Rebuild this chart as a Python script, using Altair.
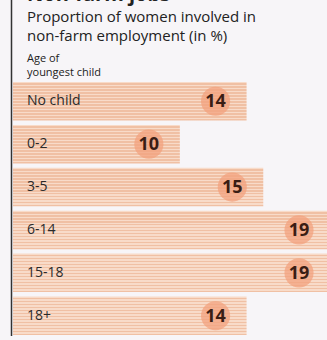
import altair as alt
import pandas as pd

categories = ["No child", "0-2", "3-5", "6-14", "15-18", "18+"]
values = [14, 10, 15, 19, 19, 14]

df = pd.DataFrame({"cat": categories, "val": values})

light = "#f8dbc9"
dark = "#f0c0a4"
n = 13
stops = []
for i in range(n):
    stops.append(alt.GradientStop(offset=i / n, color=light))
    stops.append(alt.GradientStop(offset=(i + 0.5) / n, color=light))
    stops.append(alt.GradientStop(offset=(i + 0.5) / n, color=dark))
    stops.append(alt.GradientStop(offset=(i + 1) / n, color=dark))
grad = alt.Gradient(gradient="linear", stops=stops, x1=0, x2=0, y1=0, y2=1)

x_scale = alt.Scale(domain=[0, 19], range=[13, 330], nice=False, zero=True)
y_scale = alt.Scale(domain=categories, range=[82, 335], paddingInner=0.1, paddingOuter=0)

base = alt.Chart(df)

bars = base.mark_bar(color=grad, cornerRadius=0).encode(
    x=alt.X("val:Q", scale=x_scale, axis=None),
    x2=alt.value(13),
    y=alt.Y("cat:N", scale=y_scale, axis=None, sort=categories),
)

circles = base.mark_circle(color="#f2a07c", opacity=0.72, size=850, xOffset=-31).encode(
    x=alt.X("val:Q", scale=x_scale),
    y=alt.Y("cat:N", scale=y_scale, sort=categories),
)

vals = base.mark_text(dx=-31, dy=1, fontSize=18, fontWeight="bold", color="#3a1d14",
                      font="Open Sans", baseline="middle", align="center").encode(
    x=alt.X("val:Q", scale=x_scale),
    y=alt.Y("cat:N", scale=y_scale, sort=categories),
    text="val:Q",
)

labels = base.mark_text(align="left", baseline="middle", fontSize=14, color="#2a2a2a",
                        font="Open Sans").encode(
    x=alt.value(27),
    y=alt.Y("cat:N", scale=y_scale, sort=categories),
    text="cat:N",
)

def txt(s, y, size, weight="normal"):
    return alt.Chart(pd.DataFrame({"t": [s]})).mark_text(
        align="left", baseline="alphabetic", fontSize=size, fontWeight=weight,
        color="#222222", font="Open Sans"
    ).encode(x=alt.value(27), y=alt.value(y), text="t:N")

t0 = txt("Non-farm jobs", 1, 20, "bold")
t1 = txt("Proportion of women involved in", 22, 15)
t2 = txt("non-farm employment (in %)", 41, 15)
t3 = txt("Age of", 62, 11)
t4 = txt("youngest child", 76, 11)

vline = alt.Chart(pd.DataFrame({"a": [0]})).mark_rule(color="#333333", strokeWidth=1.5).encode(
    x=alt.value(11.5), y=alt.value(0), y2=alt.value(336)
)

chart = alt.layer(bars, circles, vals, labels, t0, t1, t2, t3, t4, vline).properties(
    width=327, height=340,
    autosize=alt.AutoSizeParams(type="none"),
    padding=0,
    background="#f7f5f8",
).configure_view(stroke=None)

chart.save("out.html", embed_options={"renderer": "svg", "actions": False})
